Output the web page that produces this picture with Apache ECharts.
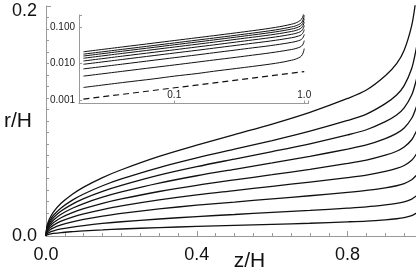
<!DOCTYPE html>
<html><head><meta charset="utf-8">
<script src="https://cdn.jsdelivr.net/npm/echarts@6/dist/echarts.min.js"></script>
<style>html,body{margin:0;padding:0;background:#fff}#c{width:416px;height:275px}</style>
</head><body><div id="c"></div>
<script>
// z/H sample positions
const zValues = [0, 0.002, 0.005, 0.01, 0.02, 0.04, 0.07, 0.1, 0.15, 0.2, 0.3, 0.4, 0.5, 0.6, 0.7, 0.8, 0.85, 0.9, 0.93, 0.95, 0.97, 0.98, 0.99, 1.0];
// r/H for each curve (top to bottom)
const curve1 = [0, 0.0076, 0.0114, 0.0154, 0.0209, 0.0284, 0.0363, 0.0425, 0.0508, 0.0576, 0.0692, 0.0790, 0.0882, 0.0973, 0.1075, 0.1196, 0.1269, 0.1393, 0.1499, 0.1616, 0.1830, 0.2029, 0.2301, 0.2750];
const curve2 = [0, 0.0065, 0.0098, 0.0133, 0.0180, 0.0244, 0.0312, 0.0365, 0.0437, 0.0496, 0.0595, 0.0679, 0.0755, 0.0830, 0.0912, 0.1005, 0.1060, 0.1151, 0.1226, 0.1308, 0.1457, 0.1595, 0.1783, 0.2092];
const curve3 = [0, 0.0058, 0.0087, 0.0118, 0.0160, 0.0217, 0.0277, 0.0325, 0.0388, 0.0440, 0.0529, 0.0603, 0.0669, 0.0734, 0.0802, 0.0879, 0.0924, 0.0994, 0.1052, 0.1114, 0.1226, 0.1329, 0.1469, 0.1699];
const curve4 = [0, 0.0050, 0.0076, 0.0102, 0.0139, 0.0189, 0.0241, 0.0282, 0.0337, 0.0383, 0.0460, 0.0524, 0.0580, 0.0635, 0.0693, 0.0756, 0.0792, 0.0847, 0.0892, 0.0939, 0.1024, 0.1101, 0.1206, 0.1378];
const curve5 = [0, 0.0042, 0.0064, 0.0086, 0.0117, 0.0159, 0.0203, 0.0237, 0.0284, 0.0322, 0.0387, 0.0441, 0.0488, 0.0533, 0.0580, 0.0631, 0.0660, 0.0703, 0.0737, 0.0773, 0.0837, 0.0895, 0.0973, 0.1101];
const curve6 = [0, 0.0034, 0.0052, 0.0070, 0.0095, 0.0129, 0.0165, 0.0193, 0.0230, 0.0262, 0.0314, 0.0358, 0.0395, 0.0432, 0.0469, 0.0508, 0.0530, 0.0562, 0.0587, 0.0613, 0.0659, 0.0700, 0.0756, 0.0846];
const curve7 = [0, 0.0026, 0.0039, 0.0052, 0.0071, 0.0096, 0.0123, 0.0144, 0.0172, 0.0196, 0.0235, 0.0268, 0.0295, 0.0323, 0.0350, 0.0379, 0.0396, 0.0419, 0.0437, 0.0456, 0.0489, 0.0519, 0.0560, 0.0626];
const curve8 = [0, 0.0016, 0.0024, 0.0033, 0.0045, 0.0061, 0.0078, 0.0091, 0.0109, 0.0124, 0.0148, 0.0169, 0.0187, 0.0205, 0.0223, 0.0242, 0.0253, 0.0270, 0.0283, 0.0297, 0.0321, 0.0343, 0.0373, 0.0423];
const curve9 = [0, 0.0008, 0.0012, 0.0016, 0.0022, 0.0030, 0.0038, 0.0045, 0.0053, 0.0061, 0.0073, 0.0083, 0.0092, 0.0101, 0.0111, 0.0123, 0.0130, 0.0141, 0.0150, 0.0160, 0.0178, 0.0195, 0.0218, 0.0256];
// dashed reference line in the inset
const dashedZ = [0.02, 1.0];
const dashedR = [0.00105, 0.006];
// tick labels
const mainXTickLabels = ['0.0', '0.4', '0.8'];
const mainYTickLabels = ['0.0', '0.2'];
const insetXTickLabels = ['0.1', '1.0'];
const insetYTickLabels = ['0.001', '0.010', '0.100'];

const curves = [curve1, curve2, curve3, curve4, curve5, curve6, curve7, curve8, curve9];
const insetStart = zValues.indexOf(0.02);
const font = 'Liberation Sans, Arial, sans-serif';

function pick(labels, digits) {
  return function (v) {
    const s = Number(v).toFixed(digits);
    return labels.indexOf(s) >= 0 ? s : '';
  };
}

const series = [];
curves.forEach(function (c) {
  series.push({
    type: 'line', xAxisIndex: 0, yAxisIndex: 0, showSymbol: false, symbol: 'none',
    smooth: 0.3, data: zValues.map(function (z, i) { return [z, c[i]]; }),
    lineStyle: { color: '#111', width: 1.3 }, animation: false, silent: true
  });
  series.push({
    type: 'line', xAxisIndex: 1, yAxisIndex: 1, showSymbol: false, symbol: 'none',
    smooth: 0.3, data: zValues.slice(insetStart).map(function (z, i) { return [z, c[i + insetStart]]; }),
    lineStyle: { color: '#111', width: 1 }, animation: false, silent: true
  });
});
series.push({
  type: 'line', xAxisIndex: 1, yAxisIndex: 1, showSymbol: false, symbol: 'none',
  data: dashedZ.map(function (z, i) { return [z, dashedR[i]]; }),
  lineStyle: { color: '#111', width: 1.2, type: [6, 4] }, animation: false, silent: true
});

const axisGray = '#999';
const chart = echarts.init(document.getElementById('c'), null, { renderer: 'canvas' });
chart.setOption({
  backgroundColor: '#fff',
  animation: false,
  grid: [
    { left: 46, top: 6, width: 377, height: 230, containLabel: false, outerBoundsMode: 'none' },
    { left: 79, top: 15, width: 229.6, height: 88.5, containLabel: false, outerBoundsMode: 'none' }
  ],
  xAxis: [
    {
      type: 'value', gridIndex: 0, min: 0, max: 1, interval: 0.4,
      name: 'z/H', nameLocation: 'middle', nameGap: 15, nameMoveOverlap: false,
      nameTextStyle: { fontFamily: font, fontSize: 21, color: '#111', padding: [0, 0, 0, 30] },
      axisLine: { lineStyle: { color: axisGray, width: 1 } },
      axisTick: { inside: true, length: 5, lineStyle: { color: axisGray } },
      minorTick: { show: true, splitNumber: 8, length: 3, lineStyle: { color: axisGray } },
      splitLine: { show: false },
      axisLabel: { fontFamily: font, fontSize: 18, color: '#111', margin: 10, formatter: pick(mainXTickLabels, 1) }
    },
    {
      type: 'log', gridIndex: 1, min: 0.0185, max: 1.08, logBase: 10, splitNumber: 2,
      axisLine: { lineStyle: { color: axisGray, width: 1 } },
      axisTick: { inside: true, length: 3, lineStyle: { color: axisGray } },
      minorTick: { show: false },
      splitLine: { show: false },
      axisLabel: { inside: true, fontFamily: font, fontSize: 10, color: '#222', margin: 3, formatter: pick(insetXTickLabels, 1) }
    }
  ],
  yAxis: [
    {
      type: 'value', gridIndex: 0, min: 0, max: 0.2, interval: 0.2,
      name: 'r/H', nameLocation: 'middle', nameRotate: 0, nameGap: 14, nameMoveOverlap: false,
      nameTextStyle: { fontFamily: font, fontSize: 21, color: '#111' },
      axisLine: { show: true, lineStyle: { color: axisGray, width: 1 } },
      axisTick: { show: true, inside: true, length: 5, lineStyle: { color: axisGray } },
      minorTick: { show: true, splitNumber: 20, length: 3, lineStyle: { color: axisGray } },
      splitLine: { show: false },
      axisLabel: {
        fontFamily: font, fontSize: 18, color: '#111', margin: 9,
        formatter: function (v) {
          const s = Number(v).toFixed(1);
          if (mainYTickLabels.indexOf(s) < 0) return '';
          return v > 0.1 ? '{top|' + s + '}' : s;
        },
        rich: { top: { fontFamily: font, fontSize: 18, color: '#111', padding: [10, 0, 0, 0] } }
      }
    },
    {
      type: 'log', gridIndex: 1, min: 0.0008, max: 0.213, logBase: 10, splitNumber: 2,
      axisLine: { show: true, lineStyle: { color: axisGray, width: 1 } },
      axisTick: { show: true, inside: true, length: 3, lineStyle: { color: axisGray } },
      minorTick: { show: false },
      splitLine: { show: false },
      axisLabel: { fontFamily: font, fontSize: 10, color: '#222', margin: 4, formatter: pick(insetYTickLabels, 3) }
    }
  ],
  series: series
});
</script>
</body></html>
